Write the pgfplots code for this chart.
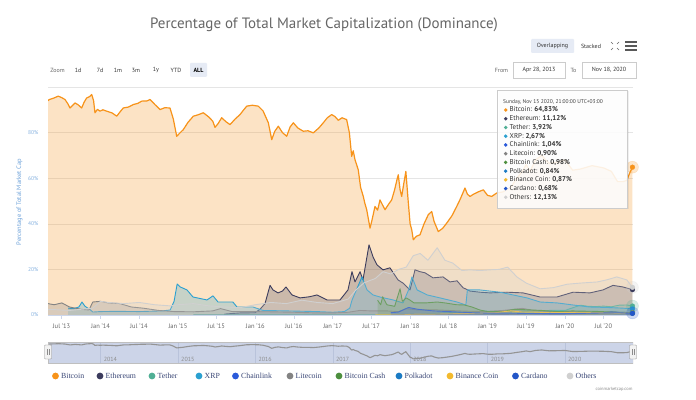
\documentclass[border=0pt]{standalone}
\usepackage{fontspec}
\setmainfont{PT Sans}
\newfontfamily\legfont{Liberation Serif}
\usepackage{pgfplots}
\pgfplotsset{compat=1.18}
\usepackage{pgfplotstable}

\definecolor{btc}{HTML}{F7931A}
\definecolor{eth}{HTML}{3C3C5D}
\definecolor{usdt}{HTML}{50AF95}
\definecolor{xrp}{HTML}{2AA0D0}
\definecolor{link}{HTML}{2A5ADA}
\definecolor{ltc}{HTML}{838383}
\definecolor{bch}{HTML}{4D8F3E}
\definecolor{dot}{HTML}{1B7BC4}
\definecolor{bnb}{HTML}{F3BA2F}
\definecolor{ada}{HTML}{2356C8}
\definecolor{oth}{HTML}{D0D0D0}
\definecolor{titlec}{HTML}{666666}
\definecolor{ylabc}{HTML}{6FA3DA}
\definecolor{legc}{HTML}{3A4776}
\definecolor{btnbg}{HTML}{E6EBF5}
\definecolor{navbg}{HTML}{CCD4E8}
\definecolor{navgrid}{HTML}{B9C3DB}
\definecolor{axc}{HTML}{CCD6EB}

\pgfplotstableread{
x y
2013.321 94.0
2013.338 94.5
2013.40 95.2
2013.454 96.0
2013.50 95.3
2013.541 94.5
2013.58 92.5
2013.605 90.8
2013.64 92.0
2013.670 93.0
2013.71 92.2
2013.756 90.8
2013.79 93.5
2013.821 95.2
2013.86 95.8
2013.886 96.7
2013.91 94.0
2013.928 88.7
2013.96 90.2
2013.993 89.4
2014.03 90.0
2014.080 89.4
2014.15 88.6
2014.209 87.2
2014.25 89.0
2014.294 90.8
2014.36 91.2
2014.423 92.3
2014.48 92.8
2014.532 93.8
2014.60 93.9
2014.639 94.5
2014.70 92.4
2014.768 90.1
2014.83 90.9
2014.897 90.8
2014.94 86.0
2014.984 78.4
2015.03 80.0
2015.069 81.3
2015.13 84.5
2015.199 87.2
2015.26 87.8
2015.328 88.7
2015.40 86.8
2015.45 85.0
2015.479 82.3
2015.52 84.0
2015.565 86.5
2015.62 84.8
2015.673 83.5
2015.74 86.0
2015.802 87.9
2015.85 90.0
2015.889 91.6
2015.96 92.0
2016.038 91.6
2016.10 89.5
2016.168 84.3
2016.212 76.9
2016.25 80.5
2016.297 82.8
2016.35 80.0
2016.405 78.4
2016.45 82.5
2016.491 84.3
2016.55 82.0
2016.620 80.6
2016.68 80.8
2016.749 79.9
2016.82 82.0
2016.878 84.3
2016.93 86.5
2016.987 87.9
2017.03 87.0
2017.072 85.4
2017.12 86.5
2017.180 85.7
2017.215 80.0
2017.245 69.6
2017.265 72.0
2017.288 68.1
2017.330 63.7
2017.360 56.0
2017.395 52.0
2017.415 49.0
2017.439 46.2
2017.482 38.1
2017.510 42.0
2017.546 47.6
2017.580 46.0
2017.611 50.5
2017.640 48.5
2017.676 46.2
2017.720 48.5
2017.762 50.5
2017.800 55.0
2017.835 60.0
2017.847 61.5
2017.870 55.0
2017.891 52.0
2017.920 58.0
2017.945 63.0
2017.975 50.0
2018.000 40.0
2018.021 37.4
2018.041 33.0
2018.080 34.5
2018.128 35.2
2018.180 40.0
2018.235 44.0
2018.279 45.4
2018.310 41.0
2018.364 36.6
2018.420 38.0
2018.473 40.3
2018.540 43.5
2018.602 47.6
2018.650 51.0
2018.709 55.7
2018.740 53.0
2018.774 52.0
2018.820 53.0
2018.880 54.0
2018.946 54.9
2019.000 52.5
2019.054 52.0
2019.119 53.5
2019.20 54.0
2019.30 56.0
2019.38 60.0
2019.45 63.0
2019.50 66.0
2019.55 63.0
2019.62 68.0
2019.70 70.0
2019.75 68.0
2019.80 66.5
2019.90 67.0
2020.00 68.0
2020.10 63.5
2020.20 64.0
2020.35 65.5
2020.50 64.5
2020.60 63.0
2020.68 58.5
2020.75 58.5
2020.80 59.0
2020.84 62.5
2020.873 64.83
}\tbtc

\pgfplotstableread{
x y
2015.601 0.4
2015.802 0.9
2015.996 1.0
2016.06 2.5
2016.125 5.0
2016.19 13.0
2016.228 11.0
2016.293 9.7
2016.35 10.5
2016.396 12.3
2016.474 8.8
2016.577 7.5
2016.70 8.0
2016.797 8.8
2016.926 6.6
2017.094 6.6
2017.197 11.0
2017.249 19.0
2017.288 14.5
2017.353 19.0
2017.391 15.4
2017.469 30.8
2017.521 25.5
2017.572 22.0
2017.65 19.8
2017.74 20.7
2017.843 15.4
2017.908 14.0
2017.999 11.0
2018.063 19.8
2018.128 19.0
2018.193 18.5
2018.296 16.3
2018.425 16.7
2018.515 14.5
2018.606 15.0
2018.683 12.0
2018.774 10.5
2018.903 10.0
2019.032 9.7
2019.252 10.0
2019.459 9.7
2019.679 7.9
2019.898 7.9
2020.105 10.0
2020.324 9.7
2020.492 11.0
2020.621 13.0
2020.75 12.3
2020.873 11.12
}\teth

\pgfplotstableread{
x y
2015.20 0.05
2016.00 0.05
2017.00 0.10
2017.50 0.10
2017.90 0.30
2018.10 0.40
2018.30 0.70
2018.50 1.00
2018.80 1.30
2018.95 1.70
2019.20 1.50
2019.40 1.60
2019.60 1.80
2019.80 2.00
2020.00 2.00
2020.20 4.30
2020.30 3.80
2020.40 3.70
2020.50 3.90
2020.60 3.60
2020.70 4.30
2020.80 4.40
2020.873 3.92
}\tusdt

\pgfplotstableread{
x y
2013.58 3.0
2013.65 2.8
2013.72 3.5
2013.76 5.7
2013.80 3.8
2013.86 2.5
2013.90 1.3
2014.00 1.5
2014.20 1.6
2014.50 1.5
2014.80 1.8
2014.90 2.2
2014.95 6.0
2014.99 13.6
2015.03 12.3
2015.117 11.0
2015.194 7.9
2015.375 6.6
2015.453 8.4
2015.518 5.7
2015.71 5.7
2015.763 3.5
2015.97 3.5
2016.10 2.0
2016.40 1.8
2016.80 1.5
2017.00 1.2
2017.15 1.5
2017.22 3.0
2017.25 6.6
2017.378 16.7
2017.443 11.0
2017.52 8.8
2017.61 7.9
2017.78 6.6
2017.908 5.3
2017.98 11.0
2018.024 16.7
2018.09 11.0
2018.22 8.8
2018.386 7.5
2018.606 5.7
2018.72 4.4
2018.74 11.0
2018.90 11.0
2019.162 10.0
2019.33 8.8
2019.51 7.5
2019.68 5.7
2019.90 5.3
2020.105 4.4
2020.32 3.5
2020.545 3.3
2020.75 3.0
2020.873 2.67
}\txrp

\pgfplotstableread{
x y
2017.72 0.02
2018.50 0.05
2019.00 0.10
2019.40 0.40
2019.55 0.60
2019.80 0.30
2020.00 0.30
2020.20 0.60
2020.50 1.00
2020.60 1.50
2020.70 1.20
2020.873 1.04
}\tlink

\pgfplotstableread{
x y
2013.321 5.0
2013.40 4.5
2013.50 5.3
2013.60 3.5
2013.75 2.5
2013.85 2.2
2013.90 5.7
2014.00 6.0
2014.10 5.3
2014.25 5.0
2014.40 3.5
2014.55 3.0
2014.75 2.0
2014.95 1.5
2015.20 1.4
2015.45 1.8
2015.55 2.8
2015.70 1.5
2015.90 1.5
2016.20 1.4
2016.50 1.2
2016.80 0.9
2017.00 0.9
2017.20 1.2
2017.35 2.0
2017.50 1.8
2017.70 1.8
2017.85 1.5
2017.95 2.8
2018.10 2.2
2018.30 2.3
2018.50 2.0
2018.70 1.7
2018.95 1.5
2019.20 2.0
2019.45 2.9
2019.60 2.0
2019.80 1.6
2020.00 1.5
2020.20 1.4
2020.50 1.2
2020.70 1.1
2020.873 0.90
}\tltc

\pgfplotstableread{
x y
2017.58 6.5
2017.62 4.5
2017.645 8.0
2017.70 4.5
2017.80 3.8
2017.87 11.5
2017.90 6.0
2017.95 7.5
2018.00 6.5
2018.05 5.3
2018.20 5.3
2018.35 5.7
2018.45 5.3
2018.60 4.5
2018.70 4.4
2018.80 3.5
2018.90 2.2
2019.00 1.5
2019.20 1.5
2019.35 2.5
2019.50 2.3
2019.70 2.0
2019.90 1.5
2020.10 1.8
2020.20 1.7
2020.40 1.6
2020.60 1.3
2020.80 1.1
2020.873 0.98
}\tbch

\pgfplotstableread{
x y
2020.63 1.00
2020.70 0.90
2020.80 0.80
2020.873 0.84
}\tdot

\pgfplotstableread{
x y
2017.55 0.05
2017.90 0.05
2018.00 0.30
2018.10 0.40
2018.30 0.40
2018.60 0.60
2018.90 0.80
2019.10 1.00
2019.30 1.80
2019.45 1.30
2019.60 1.30
2019.80 1.00
2020.00 1.10
2020.20 1.10
2020.50 0.90
2020.70 0.80
2020.873 0.87
}\tbnb

\pgfplotstableread{
x y
2017.75 1.0
2017.85 1.3
2017.98 3.3
2018.10 2.5
2018.30 1.8
2018.50 1.5
2018.80 1.0
2019.00 0.8
2019.30 0.8
2019.60 0.6
2019.90 0.6
2020.20 0.7
2020.50 0.9
2020.70 1.0
2020.873 0.68
}\tada

\pgfplotstableread{
x y
2013.321 2.5
2013.60 2.0
2013.90 3.0
2014.00 6.0
2014.10 5.5
2014.30 5.0
2014.50 5.5
2014.70 4.5
2014.90 4.0
2015.00 4.5
2015.20 5.0
2015.40 4.0
2015.60 3.5
2015.80 3.2
2016.00 4.5
2016.20 5.5
2016.40 5.0
2016.60 6.5
2016.80 5.5
2017.00 5.0
2017.20 7.0
2017.30 11.0
2017.40 14.0
2017.47 15.0
2017.55 16.0
2017.65 19.0
2017.75 18.0
2017.85 20.0
2017.95 21.0
2018.04 26.0
2018.13 27.0
2018.23 24.0
2018.35 29.5
2018.45 24.0
2018.55 22.8
2018.67 19.5
2018.77 19.8
2018.90 19.5
2019.03 19.8
2019.15 20.0
2019.26 21.0
2019.38 16.7
2019.50 14.0
2019.68 11.5
2019.85 12.0
2020.03 13.5
2020.20 14.0
2020.42 14.5
2020.55 15.5
2020.67 16.7
2020.80 15.4
2020.873 12.13
}\toth

\pgfplotsset{
  afill/.style={draw=none, fill=#1, fill opacity=0.25, forget plot},
  aline/.style={draw=#1, line width=0.9pt, line join=round, forget plot},
  endm/.style={only marks, mark=*, mark size=2.4pt, color=#1, mark options={draw=#1, fill=#1, solid, line width=0.3pt}, forget plot},
  halo/.style={only marks, mark=*, mark size=6pt, color=#1, mark options={draw=#1, fill=#1, opacity=0.22}, forget plot},
}

\begin{document}
\begin{tikzpicture}[x=1pt,y=1pt]
\fill[white] (0,0) rectangle (696,399);

% title
\node[font=\fontsize{15}{17}\selectfont, text=titlec] at (324,374) {Percentage of Total Market Capitalization (Dominance)};

% top-right buttons
\fill[btnbg, rounded corners=1pt] (531,346) rectangle (574,360);
\node[font=\fontsize{6}{7}\selectfont, text=black!80] at (552.5,353) {Overlapping};
\node[font=\fontsize{6}{7}\selectfont, text=black!80] at (591,353) {Stacked};
\begin{scope}[draw=black!60, line width=0.5pt]
\draw (611,357)--(613,355); \draw (619,357)--(617,355);
\draw (611,349)--(613,351); \draw (619,349)--(617,351);
\end{scope}
\begin{scope}[draw=black!65, line width=1.2pt]
\draw (625,357)--(637,357); \draw (625,353)--(637,353); \draw (625,349)--(637,349);
\end{scope}

% zoom row
\node[font=\fontsize{6}{7}\selectfont, text=black!60] at (57.5,329) {Zoom};
\fill[btnbg, rounded corners=1pt] (190,322) rectangle (207,336);
\foreach \xx/\tt in {78/1d,100/7d,118/1m,136/3m,156/1y,176/YTD}{
  \node[font=\fontsize{6}{7}\selectfont, text=black!80] at (\xx,329) {\tt};}
\node[font=\fontsize{6}{7}\selectfont\bfseries, text=black] at (198.5,329) {ALL};
\node[font=\fontsize{6}{7}\selectfont, text=black!60] at (501.5,329) {From};
\draw[black!20, line width=0.4pt] (513,321) rectangle (565,337);
\node[font=\fontsize{6}{7}\selectfont, text=black!80] at (539,329) {Apr 28, 2013};
\node[font=\fontsize{6}{7}\selectfont, text=black!60] at (573.5,329) {To};
\draw[black!20, line width=0.4pt] (582,321) rectangle (636,337);
\node[font=\fontsize{6}{7}\selectfont, text=black!80] at (609,329) {Nov 18, 2020};

% y axis title
\node[font=\fontsize{6.5}{7}\selectfont, text=ylabc, rotate=90] at (19.5,197) {Percentage of Total Market Cap};

% main axis
\begin{axis}[
  at={(48pt,84pt)}, anchor=south west,
  scale only axis, width=585pt, height=228pt,
  xmin=2013.321, xmax=2020.880, ymin=0, ymax=100,
  axis x line*=bottom, axis y line*=left,
  y axis line style={draw=none},
  x axis line style={draw=axc, line width=0.6pt},
  xtick={2013.496,2014,2014.496,2015,2015.496,2016,2016.497,2017,2017.496,2018,2018.496,2019,2019.496,2020,2020.497},
  xticklabels={Jul '13,Jan '14,Jul '14,Jan '15,Jul '15,Jan '16,Jul '16,Jan '17,Jul '17,Jan '18,Jul '18,Jan '19,Jul '19,Jan '20,Jul '20},
  x tick style={draw=axc, line width=0.5pt},
  tick align=outside, major tick length=4pt,
  ytick={0,20,40,60,80,100},
  yticklabels={0\%,20\%,40\%,60\%,80\%,},
  y tick style={draw=none},
  ymajorgrids, grid style={draw=black!10, line width=0.4pt},
  xticklabel style={font=\fontsize{6.5}{7}\selectfont, text=black!60, yshift=-1pt},
  yticklabel style={font=\fontsize{5.5}{6}\selectfont, text=ylabc!85, xshift=-2pt},
  no markers,
  clip=true,
  clip marker paths=false,
]
\addplot[afill=btc] table[x=x,y=y]{\tbtc} \closedcycle;
\addplot[aline=btc, line width=1.2pt] table[x=x,y=y]{\tbtc};
\addplot[afill=eth] table[x=x,y=y]{\teth} \closedcycle;
\addplot[aline=eth] table[x=x,y=y]{\teth};
\addplot[afill=usdt] table[x=x,y=y]{\tusdt} \closedcycle;
\addplot[aline=usdt] table[x=x,y=y]{\tusdt};
\addplot[afill=xrp] table[x=x,y=y]{\txrp} \closedcycle;
\addplot[aline=xrp] table[x=x,y=y]{\txrp};
\addplot[afill=link] table[x=x,y=y]{\tlink} \closedcycle;
\addplot[aline=link] table[x=x,y=y]{\tlink};
\addplot[afill=ltc] table[x=x,y=y]{\tltc} \closedcycle;
\addplot[aline=ltc] table[x=x,y=y]{\tltc};
\addplot[afill=bch] table[x=x,y=y]{\tbch} \closedcycle;
\addplot[aline=bch] table[x=x,y=y]{\tbch};
\addplot[afill=dot] table[x=x,y=y]{\tdot} \closedcycle;
\addplot[aline=dot] table[x=x,y=y]{\tdot};
\addplot[afill=bnb] table[x=x,y=y]{\tbnb} \closedcycle;
\addplot[aline=bnb] table[x=x,y=y]{\tbnb};
\addplot[afill=ada] table[x=x,y=y]{\tada} \closedcycle;
\addplot[aline=ada] table[x=x,y=y]{\tada};
\addplot[afill=oth] table[x=x,y=y]{\toth} \closedcycle;
\addplot[aline=oth] table[x=x,y=y]{\toth};
% hover markers at the last point
\addplot[halo=btc] coordinates {(2020.873,64.83)};
\addplot[endm=btc] coordinates {(2020.873,64.83)};
\addplot[halo=oth] coordinates {(2020.873,12.13)};
\addplot[endm=eth] coordinates {(2020.873,11.12)};
\addplot[endm=oth] coordinates {(2020.873,12.13)};
\addplot[halo=usdt] coordinates {(2020.873,3.92)};
\addplot[endm=usdt] coordinates {(2020.873,3.92)};
\addplot[endm=xrp] coordinates {(2020.873,2.67)};
\addplot[halo=ada] coordinates {(2020.873,0.9)};
\addplot[endm=link] coordinates {(2020.873,1.04)};
\addplot[endm=ltc] coordinates {(2020.873,0.90)};
\addplot[endm=bch] coordinates {(2020.873,0.98)};
\addplot[endm=bnb] coordinates {(2020.873,0.87)};
\addplot[endm=dot] coordinates {(2020.873,0.84)};
\addplot[endm=ada] coordinates {(2020.873,0.68)};
\end{axis}

% navigator
\begin{axis}[
  at={(48pt,36pt)}, anchor=south west,
  scale only axis, width=585pt, height=21pt,
  xmin=2013.321, xmax=2020.880, ymin=16, ymax=103,
  hide axis, no markers, clip=true,
]
\fill[navbg] (rel axis cs:0,0) rectangle (rel axis cs:1,1);
\foreach \yr in {2014,2015,2016,2017,2018,2019,2020}{
  \edef\tmp{\noexpand\draw[navgrid, line width=0.4pt] (axis cs:\yr,16) -- (axis cs:\yr,103);}\tmp
  \edef\tmp{\noexpand\node[anchor=west, font=\noexpand\fontsize{6}{7}\noexpand\selectfont, text=black!45, inner sep=0pt] at (axis cs:\yr.04,30) {\yr};}\tmp
}
\addplot[draw=black!42, line width=1.1pt, line join=round] table[x=x,y=y]{\tbtc};
\draw[black!25, line width=0.4pt] (rel axis cs:0,0) rectangle (rel axis cs:1,1);
\end{axis}
% navigator handles
\foreach \hx in {48,633}{
  \draw[black!45, fill=black!5, rounded corners=0.8pt, line width=0.4pt] (\hx-3.5,40) rectangle (\hx+3.5,54);
  \draw[black!45, line width=0.4pt] (\hx-1,44) -- (\hx-1,50) (\hx+1,44) -- (\hx+1,50);
}

% legend
\foreach \dx/\col/\name in {55.5/btc/Bitcoin,100/eth/Ethereum,152/usdt/Tether,199/xrp/XRP,235.5/link/Chainlink,290/ltc/Litecoin,339/bch/Bitcoin Cash,399/dot/Polkadot,450/bnb/Binance Coin,515.5/ada/Cardano,570/oth/Others}{
  \fill[\col] (\dx,23) circle (3.4pt);
  \node[anchor=west, inner sep=0pt, font=\legfont\fontsize{7.8}{8}\selectfont, text=legc] at (\dx+5.5,23) {\name};
}
\node[font=\fontsize{4.5}{5}\selectfont, text=black!45, anchor=east] at (636,10) {coinmarketcap.com};

% tooltip
\fill[black, opacity=0.06] (498.5,189.5) rectangle (628.5,307.5);
\fill[white, opacity=0.88] (497,191) rectangle (627,309);
\draw[black!20, line width=0.5pt] (497,191) rectangle (627,309);
\node[anchor=west, inner sep=0pt, font=\fontsize{5.5}{6}\selectfont, text=black!75] at (503,297.3) {Sunday, Nov 15 2020, 21:00:00 UTC+03:00};
\foreach \i/\col/\name/\val in {0/btc/Bitcoin/{64,83\%},1/eth/Ethereum/{11,12\%},2/usdt/Tether/{3,92\%},3/xrp/XRP/{2,67\%},4/link/Chainlink/{1,04\%},5/ltc/Litecoin/{0,90\%},6/bch/Bitcoin Cash/{0,98\%},7/dot/Polkadot/{0,84\%},8/bnb/Binance Coin/{0,87\%},9/ada/Cardano/{0,68\%},10/oth/Others/{12,13\%}}{
  \pgfmathsetmacro{\yy}{289-8.73*\i}
  \fill[\col] (505.7,\yy) circle (1.9pt);
  \node[anchor=west, inner sep=0pt, font=\fontsize{7}{8}\selectfont, text=black!80] at (509.5,\yy) {\name: \textbf{\val}};
}
\end{tikzpicture}
\end{document}
